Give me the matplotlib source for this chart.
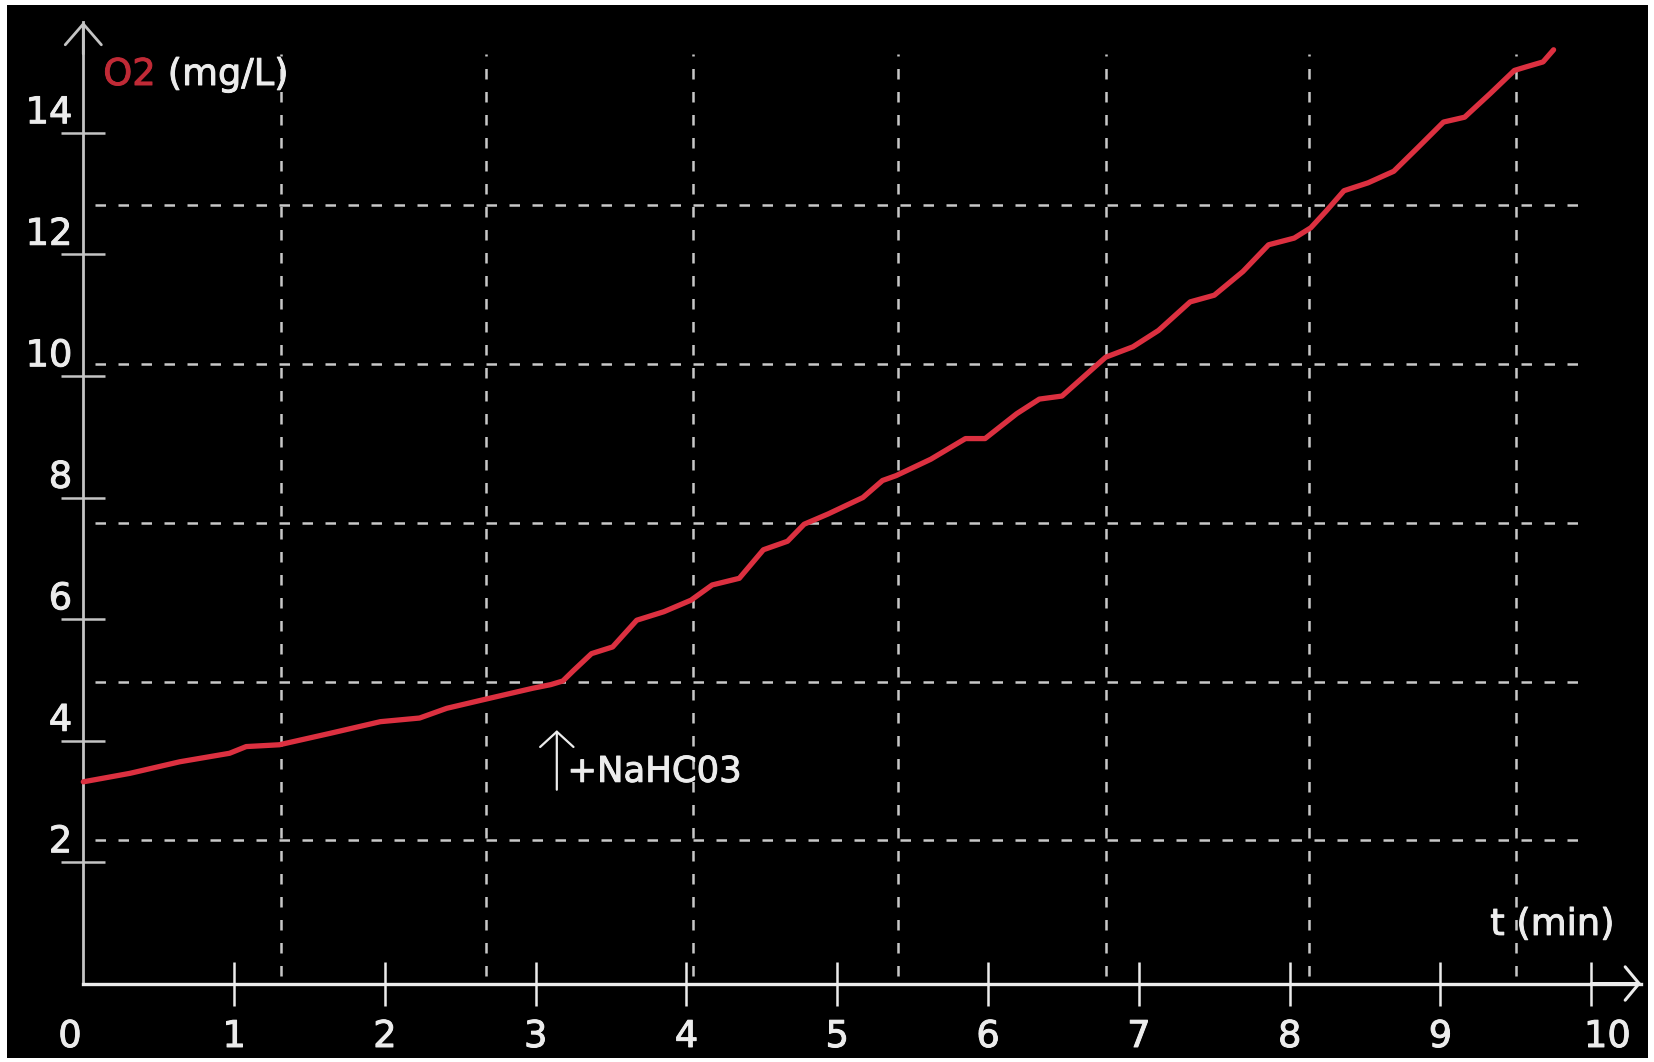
import matplotlib
matplotlib.use("Agg")
import matplotlib.pyplot as plt
import matplotlib.patheffects as pe

# O2 concentration recorded over time (min, mg/L)
t_min = [0.00, 0.31, 0.64, 0.97, 1.08, 1.30, 1.64, 1.97, 2.23, 2.41, 2.65, 2.98,
         3.10, 3.18, 3.25, 3.37, 3.51, 3.67, 3.85, 4.03, 4.17, 4.35, 4.51, 4.67,
         4.78, 4.94, 5.17, 5.30, 5.39, 5.62, 5.85, 5.98, 6.19, 6.34, 6.49, 6.78,
         6.96, 7.13, 7.34, 7.50, 7.69, 7.86, 8.03, 8.14, 8.24, 8.36, 8.52, 8.69,
         8.85, 9.02, 9.16, 9.33, 9.49, 9.57, 9.68, 9.75]
o2_mgl = [3.32, 3.46, 3.65, 3.79, 3.90, 3.93, 4.12, 4.31, 4.37, 4.53, 4.67, 4.86,
          4.92, 4.98, 5.15, 5.43, 5.54, 5.98, 6.12, 6.31, 6.56, 6.67, 7.14, 7.28,
          7.56, 7.73, 8.00, 8.28, 8.36, 8.63, 8.97, 8.97, 9.38, 9.62, 9.67, 10.31,
          10.48, 10.75, 11.22, 11.33, 11.72, 12.16, 12.27, 12.44, 12.71, 13.05, 13.18, 13.37,
          13.76, 14.18, 14.26, 14.65, 15.03, 15.09, 15.17, 15.37]

x_ticks = [1, 2, 3, 4, 5, 6, 7, 8, 9, 10]
y_ticks = [2, 4, 6, 8, 10, 12, 14]
grid_x = [1.31, 2.67, 4.04, 5.40, 6.78, 8.13, 9.50]
grid_y = [2.36, 4.97, 7.58, 10.20, 12.82]
nahco3_t = 3.14  # moment the bicarbonate was added

plt.rcParams["font.family"] = ["DejaVu Sans"]
FS = 26.5
WHITE = "#ececec"
GREY = "#c4c4c4"
RED = "#dc3040"


def heavy(color):
    # slightly thicker glyphs
    return [pe.withStroke(linewidth=0.7, foreground=color)]


fig = plt.figure(figsize=(16.54, 10.62), dpi=100, facecolor="white")
ax = fig.add_axes([0.00423, 0.00377, 0.99214, 0.99153], facecolor="black")
ax.set_xlim(-0.506, 10.376)
ax.set_ylim(-1.226, 16.107)

# dashed grid, not aligned with the ticks
ax.vlines(grid_x, 0.12, 15.3, colors="#c8c8c8", linewidth=1.8,
          linestyles=[(0, (4.2, 5.0))], zorder=1)
ax.hlines(grid_y, 0.08, 9.92, colors="#c8c8c8", linewidth=1.8,
          linestyles=[(0, (4.2, 5.0))], zorder=1)

# axes through the origin
for side in ["top", "right"]:
    ax.spines[side].set_visible(False)
ax.spines["left"].set_position(("data", 0))
ax.spines["left"].set_bounds(0, 15.83)
ax.spines["left"].set_color(GREY)
ax.spines["left"].set_linewidth(2.0)
ax.spines["bottom"].set_position(("data", 0))
ax.spines["bottom"].set_bounds(0, 10.33)
ax.spines["bottom"].set_color(WHITE)
ax.spines["bottom"].set_linewidth(2.4)

ax.set_xticks(x_ticks)
ax.set_yticks(y_ticks)
ax.tick_params(axis="x", direction="inout", length=31, width=1.8,
               colors=WHITE, labelbottom=False)
ax.tick_params(axis="y", direction="inout", length=32, width=1.8,
               colors=GREY, labelleft=False)

# open arrow heads at the ends of the axes
ax.annotate("", xy=(10.33, 0), xytext=(10.0, 0),
            arrowprops=dict(arrowstyle="->,head_length=0.5,head_width=0.6",
                            mutation_scale=20, lw=2.2, color=WHITE,
                            shrinkA=0, shrinkB=0))
ax.annotate("", xy=(0, 15.83), xytext=(0, 15.3),
            arrowprops=dict(arrowstyle="->,head_length=0.75,head_width=0.65",
                            mutation_scale=20, lw=2.0, color=GREY,
                            shrinkA=0, shrinkB=0))

# tick labels
for v in y_ticks:
    ax.annotate(str(v), xy=(0, v), xytext=(-8, 7), textcoords="offset points",
                ha="right", va="baseline", fontsize=FS, color=WHITE,
                path_effects=heavy(WHITE))
ax.annotate("0", xy=(0, 0), xytext=(-9.6, -45.7), textcoords="offset points",
            ha="center", va="baseline", fontsize=FS, color=WHITE,
            path_effects=heavy(WHITE))
for t in x_ticks:
    dx = 11.5 if t == 10 else 0
    ax.annotate(str(t), xy=(t, 0), xytext=(dx, -45.7), textcoords="offset points",
                ha="center", va="baseline", fontsize=FS, color=WHITE,
                path_effects=heavy(WHITE))

# axis titles
o2 = ax.annotate("O2", xy=(0, 14.79), xytext=(14.4, 0), textcoords="offset points",
                 ha="left", va="baseline", fontsize=FS, color="#c02a36",
                 path_effects=heavy("#c02a36"))
ax.annotate("(mg/L)", xy=(1, 0), xycoords=o2, xytext=(8.6, 0),
            textcoords="offset points", ha="left", va="bottom",
            fontsize=FS, color=WHITE, path_effects=heavy(WHITE))
ax.text(9.33, 0.80, "t (min)", ha="left", va="baseline", fontsize=FS,
        color=WHITE, path_effects=heavy(WHITE))

# data
ax.plot(t_min, o2_mgl, color=RED, lw=3.8, solid_joinstyle="round",
        solid_capstyle="round", zorder=3)

# addition of NaHCO3
ax.annotate("", xy=(nahco3_t, 4.17), xytext=(nahco3_t, 3.19),
            arrowprops=dict(arrowstyle="->,head_length=0.55,head_width=0.6",
                            mutation_scale=20, lw=1.6, color=WHITE,
                            shrinkA=0, shrinkB=0))
ax.text(nahco3_t + 0.07, 3.32, "+NaHC03", ha="left", va="baseline",
        fontsize=25.5, color=WHITE, path_effects=heavy(WHITE))

fig.savefig("out.png", dpi=100, facecolor=fig.get_facecolor())
